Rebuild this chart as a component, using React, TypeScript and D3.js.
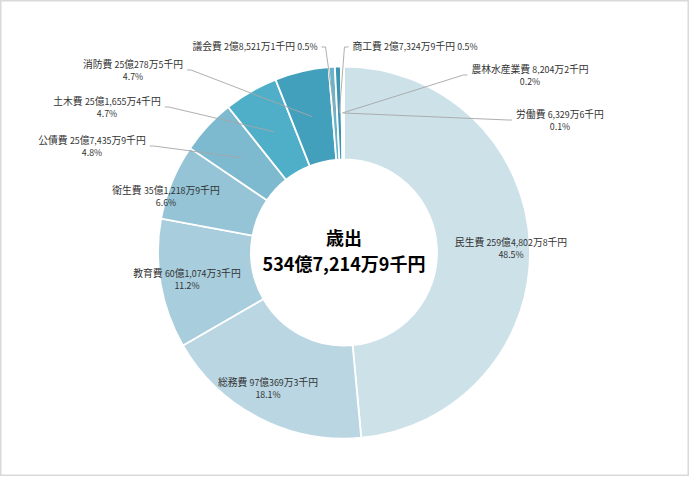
import { useEffect, useRef } from 'react';
import * as d3 from 'd3';

// 歳出 内訳（万円）
const categories = ['民生費', '総務費', '教育費', '衛生費', '公債費', '土木費', '消防費', '議会費', '商工費', '農林水産業費', '労働費'];
const values = [2594802.8, 970369.3, 601074.3, 351218.9, 257435.9, 251655.4, 250278.5, 28521.1, 27324.9, 8204.2, 6329.6];
const amountLabels = ['259億4,802万8千円', '97億369万3千円', '60億1,074万3千円', '35億1,218万9千円', '25億7,435万9千円', '25億1,655万4千円', '25億278万5千円', '2億8,521万1千円', '2億7,324万9千円', '8,204万2千円', '6,329万6千円'];
const percentLabels = ['48.5%', '18.1%', '11.2%', '6.6%', '4.8%', '4.7%', '4.7%', '0.5%', '0.5%', '0.2%', '0.1%'];
const totalTitle = '歳出';
const totalLabel = '534億7,214万9千円';

const palette = ['#cde1e9', '#b9d6e2', '#a8cddc', '#94c4d5', '#7ebacf', '#4fafc9', '#42a0bc', '#6ab3c8', '#3b95b0', '#2f87a2', '#267a94'];

// label layout: centre x, first baseline, single line?, leader side (none / left / right)
const labelLayout = [
  { x: 511, y: 246, one: false, lead: '' },
  { x: 268, y: 386, one: false, lead: '' },
  { x: 187, y: 277, one: false, lead: '' },
  { x: 166, y: 194, one: false, lead: '' },
  { x: 92, y: 144, one: false, lead: 'left' },
  { x: 107, y: 105, one: false, lead: 'left' },
  { x: 133, y: 68, one: false, lead: 'left' },
  { x: 255, y: 50, one: true, lead: 'left' },
  { x: 415, y: 50, one: true, lead: 'right' },
  { x: 530, y: 73, one: false, lead: 'right' },
  { x: 560, y: 118, one: false, lead: 'right' },
];

const W = 690;
const H = 477;
const CX = 344;
const CY = 252.5;
const R_OUT = 186;
const R_IN = 93;
const FONT = "'Noto Sans CJK JP', 'Noto Sans', sans-serif";

function addRuns(t: d3.Selection<SVGTextElement, unknown, null, undefined>, s: string, big: number, small: number) {
  s.split(/([0-9,.%]+)/).filter(p => p.length).forEach(p => {
    const isNum = /^[0-9,.%]+$/.test(p);
    t.append('tspan').attr('font-size', isNum ? small : big).text(p);
  });
}

export default function App() {
  const ref = useRef<SVGSVGElement>(null);

  useEffect(() => {
    if (!ref.current) return;
    const svg = d3.select(ref.current);
    svg.selectAll('*').remove();

    svg.append('rect')
      .attr('x', 0.75).attr('y', 0.75)
      .attr('width', W - 2.5).attr('height', H - 2.5)
      .attr('fill', '#fff').attr('stroke', '#d9d9d9').attr('stroke-width', 1.5);

    const data = categories.map((c, i) => ({ name: c, value: values[i], i }));
    const pie = d3.pie<{ name: string; value: number; i: number }>().value(d => d.value).sort(null);
    const arcs = pie(data);
    const arc = d3.arc<d3.PieArcDatum<{ name: string; value: number; i: number }>>().innerRadius(R_IN).outerRadius(R_OUT);

    const g = svg.append('g').attr('transform', `translate(${CX},${CY})`);
    g.selectAll('path.slice')
      .data(arcs)
      .join('path')
      .attr('class', 'slice')
      .attr('d', d => arc(d) ?? '')
      .attr('fill', d => palette[d.index])
      .attr('stroke', '#fff')
      .attr('stroke-width', 1.8);

    // centre text
    svg.append('text').attr('x', CX).attr('y', 245).attr('text-anchor', 'middle')
      .attr('font-family', FONT).attr('font-weight', 'bold').attr('font-size', 18).attr('fill', '#000')
      .text(totalTitle);
    svg.append('text').attr('x', CX).attr('y', 271).attr('text-anchor', 'middle')
      .attr('font-family', FONT).attr('font-weight', 'bold').attr('font-size', 18).attr('fill', '#000')
      .text(totalLabel);

    const labels = svg.append('g').attr('font-family', FONT).attr('fill', '#333');
    const lines = svg.insert('g', 'text').attr('stroke', '#a6a6a6').attr('stroke-width', 0.9).attr('fill', 'none');

    arcs.forEach((a, i) => {
      const L = labelLayout[i];
      const t1 = labels.append('text').attr('x', L.x).attr('y', L.y).attr('text-anchor', 'middle');
      addRuns(t1, `${categories[i]} ${amountLabels[i]}${L.one ? ' ' + percentLabels[i] : ''}`, 9.8, 8.8);
      if (!L.one) {
        labels.append('text').attr('x', L.x).attr('y', L.y + 12).attr('text-anchor', 'middle')
          .attr('font-size', 8.8).text(percentLabels[i]);
      }
      if (L.lead) {
        const bb = (t1.node() as SVGTextElement).getBBox();
        const ax = L.lead === 'left' ? bb.x + bb.width + 4 : bb.x - 4;
        const ay = L.one ? L.y - 3 : L.y + 2;
        const [mx, my] = arc.centroid(a);
        const ex = L.lead === 'left' ? ax + 4 : ax - 4;
        lines.append('path')
          .attr('d', d3.line()([[ax, ay], [ex, ay], [CX + mx, CY + my]]) ?? '');
      }
    });
  }, []);

  return (
    <svg ref={ref} width={W} height={H} style={{ position: 'absolute', left: 0, top: 0, background: '#fff' }} />
  );
}
